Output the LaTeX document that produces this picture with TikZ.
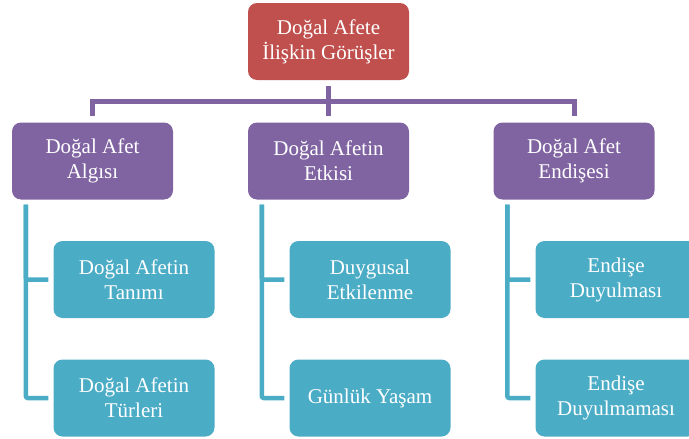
\documentclass[tikz,border=0pt]{standalone}
\usepackage{fontspec}
\setmainfont{Liberation Serif}
\usetikzlibrary{calc}
\definecolor{cred}{HTML}{C0504D}
\definecolor{cpurple}{HTML}{8064A2}
\definecolor{ccyan}{HTML}{4BACC6}
\tikzset{
  box/.style={rounded corners=9pt, minimum width=161pt, minimum height=77pt, inner sep=0pt,
    text=white, align=center, font=\fontsize{21}{25}\selectfont},
  redbox/.style={box, fill=cred},
  purplebox/.style={box, fill=cpurple},
  cyanbox/.style={box, fill=ccyan},
  pline/.style={draw=cpurple, line width=5pt},
  cline/.style={draw=ccyan, line width=4.5pt, rounded corners=2pt},
}
\begin{document}
\begin{tikzpicture}[x=1pt,y=-1pt]
\useasboundingbox (0,0) rectangle (689,439);
\node[redbox] (root) at (328.5,41.5) {Doğal Afete\\İlişkin Görüşler};
\node[purplebox] (l) at (92.5,161) {Doğal Afet\\Algısı};
\node[purplebox] (m) at (328.5,161) {Doğal Afetin\\Etkisi};
\node[purplebox] (r) at (574,161) {Doğal Afet\\Endişesi};
\node[cyanbox] (l1) at (134,279.5) {Doğal Afetin\\Tanımı};
\node[cyanbox] (l2) at (134,398) {Doğal Afetin\\Türleri};
\node[cyanbox] (m1) at (370,279.5) {Duygusal\\Etkilenme};
\node[cyanbox] (m2) at (370,398) {Günlük Yaşam};
\node[cyanbox] (r1) at (616,279.5) {Endişe\\Duyulması};
\node[cyanbox] (r2) at (616,398) {Endişe\\Duyulmaması};
\coordinate (hb) at ($(root.south)!0.5!(m.north)$);
\draw[pline] ([yshift=-6pt]root.south) -- ([yshift=6pt]m.north);
\draw[pline] ([yshift=6pt]l.north) -- (l.north |- hb) -- (r.north |- hb) -- ([yshift=6pt]r.north);
\foreach \p/\a/\b in {l/l1/l2, m/m1/m2, r/r1/r2}{
  \coordinate (s\p) at ($(\p.south west)+(14,5)$);
  \draw[cline] (s\p) |- ([xshift=-5pt]\a.west);
  \draw[cline] (s\p) |- ([xshift=-5pt]\b.west);
}
\end{tikzpicture}
\end{document}
